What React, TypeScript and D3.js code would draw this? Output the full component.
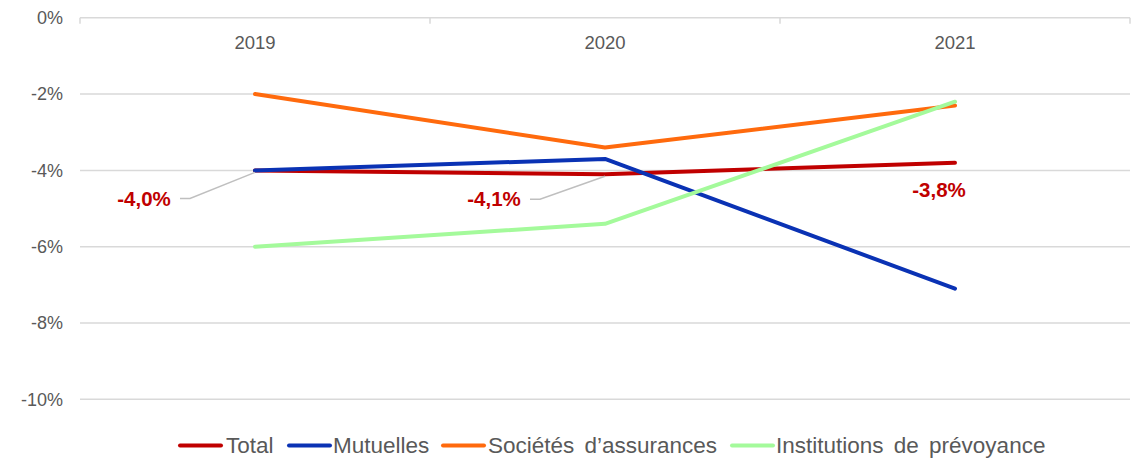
import React from "react";
import * as d3 from "d3";

const years = ["2019", "2020", "2021"];
const totalValues = [-4.0, -4.1, -3.8];
const mutuellesValues = [-4.0, -3.7, -7.1];
const societesValues = [-2.0, -3.4, -2.3];
const institutionsValues = [-6.0, -5.4, -2.2];
const yTicks = [0, -2, -4, -6, -8, -10];
const totalLabels = ["-4,0%", "-4,1%", "-3,8%"];

const series = [
  { name: "Total", values: totalValues, color: "#C00000" },
  { name: "Mutuelles", values: mutuellesValues, color: "#0A32B4" },
  { name: "Sociétés d’assurances", values: societesValues, color: "#FF6A0D" },
  { name: "Institutions de prévoyance", values: institutionsValues, color: "#A4FA9B" },
];

const W = 1138;
const H = 459;
const FONT = "'Liberation Sans', Arial, sans-serif";

export default function App() {
  const x = d3.scaleBand<string>().domain(years).range([80, 1130]);
  const y = d3.scaleLinear().domain([-10, 0]).range([399.3, 17.8]);
  const cx = (yr: string) => (x(yr) as number) + x.bandwidth() / 2;
  const line = d3
    .line<number>()
    .x((_, i) => cx(years[i]))
    .y((d) => y(d));

  const boundaries = [...years.map((yr) => x(yr) as number), 1130];

  const labelOffsets = [
    { dx: -111, dy: 28, leader: true },
    { dx: -111, dy: 25, leader: true },
    { dx: -16, dy: 27, leader: false },
  ];

  const legendItems = [
    { lx: 178, tx: 226 },
    { lx: 287, tx: 333 },
    { lx: 441, tx: 488 },
    { lx: 730, tx: 776 },
  ];

  return (
    <svg width={W} height={H} style={{ display: "block", position: "absolute", left: 0, top: 0 }}>
      <rect width={W} height={H} fill="#fff" />
      {yTicks.map((t) => (
        <g key={t}>
          <line x1={80} x2={1130} y1={y(t)} y2={y(t)} stroke="#D9D9D9" strokeWidth={1.5} />
          <text
            x={63}
            y={y(t)}
            dy="0.35em"
            textAnchor="end"
            fontFamily={FONT}
            fontSize={18}
            fill="#595959"
          >
            {t === 0 ? "0%" : `${t}%`}
          </text>
        </g>
      ))}
      {boundaries.map((b, i) => (
        <line key={i} x1={b} x2={b} y1={y(0)} y2={y(0) + 6} stroke="#D9D9D9" strokeWidth={1.5} />
      ))}
      {years.map((yr) => (
        <text
          key={yr}
          x={cx(yr)}
          y={49}
          textAnchor="middle"
          fontFamily={FONT}
          fontSize={18.5}
          fill="#595959"
        >
          {yr}
        </text>
      ))}
      {series.map((s) => (
        <path
          key={s.name}
          d={line(s.values) || ""}
          fill="none"
          stroke={s.color}
          strokeWidth={4}
          strokeLinecap="round"
          strokeLinejoin="round"
        />
      ))}
      {totalValues.map((v, i) => {
        const px = cx(years[i]);
        const py = y(v);
        const o = labelOffsets[i];
        const lx = px + o.dx;
        const ly = py + o.dy;
        return (
          <g key={i}>
            {o.leader && (
              <polyline
                points={`${lx + 36},${ly} ${lx + 46},${ly} ${px},${py + 2}`}
                fill="none"
                stroke="#BFBFBF"
                strokeWidth={1.5}
              />
            )}
            <text
              x={lx}
              y={ly}
              dy="0.35em"
              textAnchor="middle"
              fontFamily={FONT}
              fontSize={20.5}
              fontWeight="bold"
              fill="#C00000"
            >
              {totalLabels[i]}
            </text>
          </g>
        );
      })}
      {series.map((s, i) => (
        <g key={s.name}>
          <line
            x1={legendItems[i].lx + 2}
            x2={legendItems[i].lx + 43}
            y1={445.5}
            y2={445.5}
            stroke={s.color}
            strokeWidth={4}
            strokeLinecap="round"
          />
          <text
            x={legendItems[i].tx}
            y={453}
            fontFamily={FONT}
            fontSize={22.5}
            wordSpacing={4}
            fill="#595959"
          >
            {s.name}
          </text>
        </g>
      ))}
    </svg>
  );
}
